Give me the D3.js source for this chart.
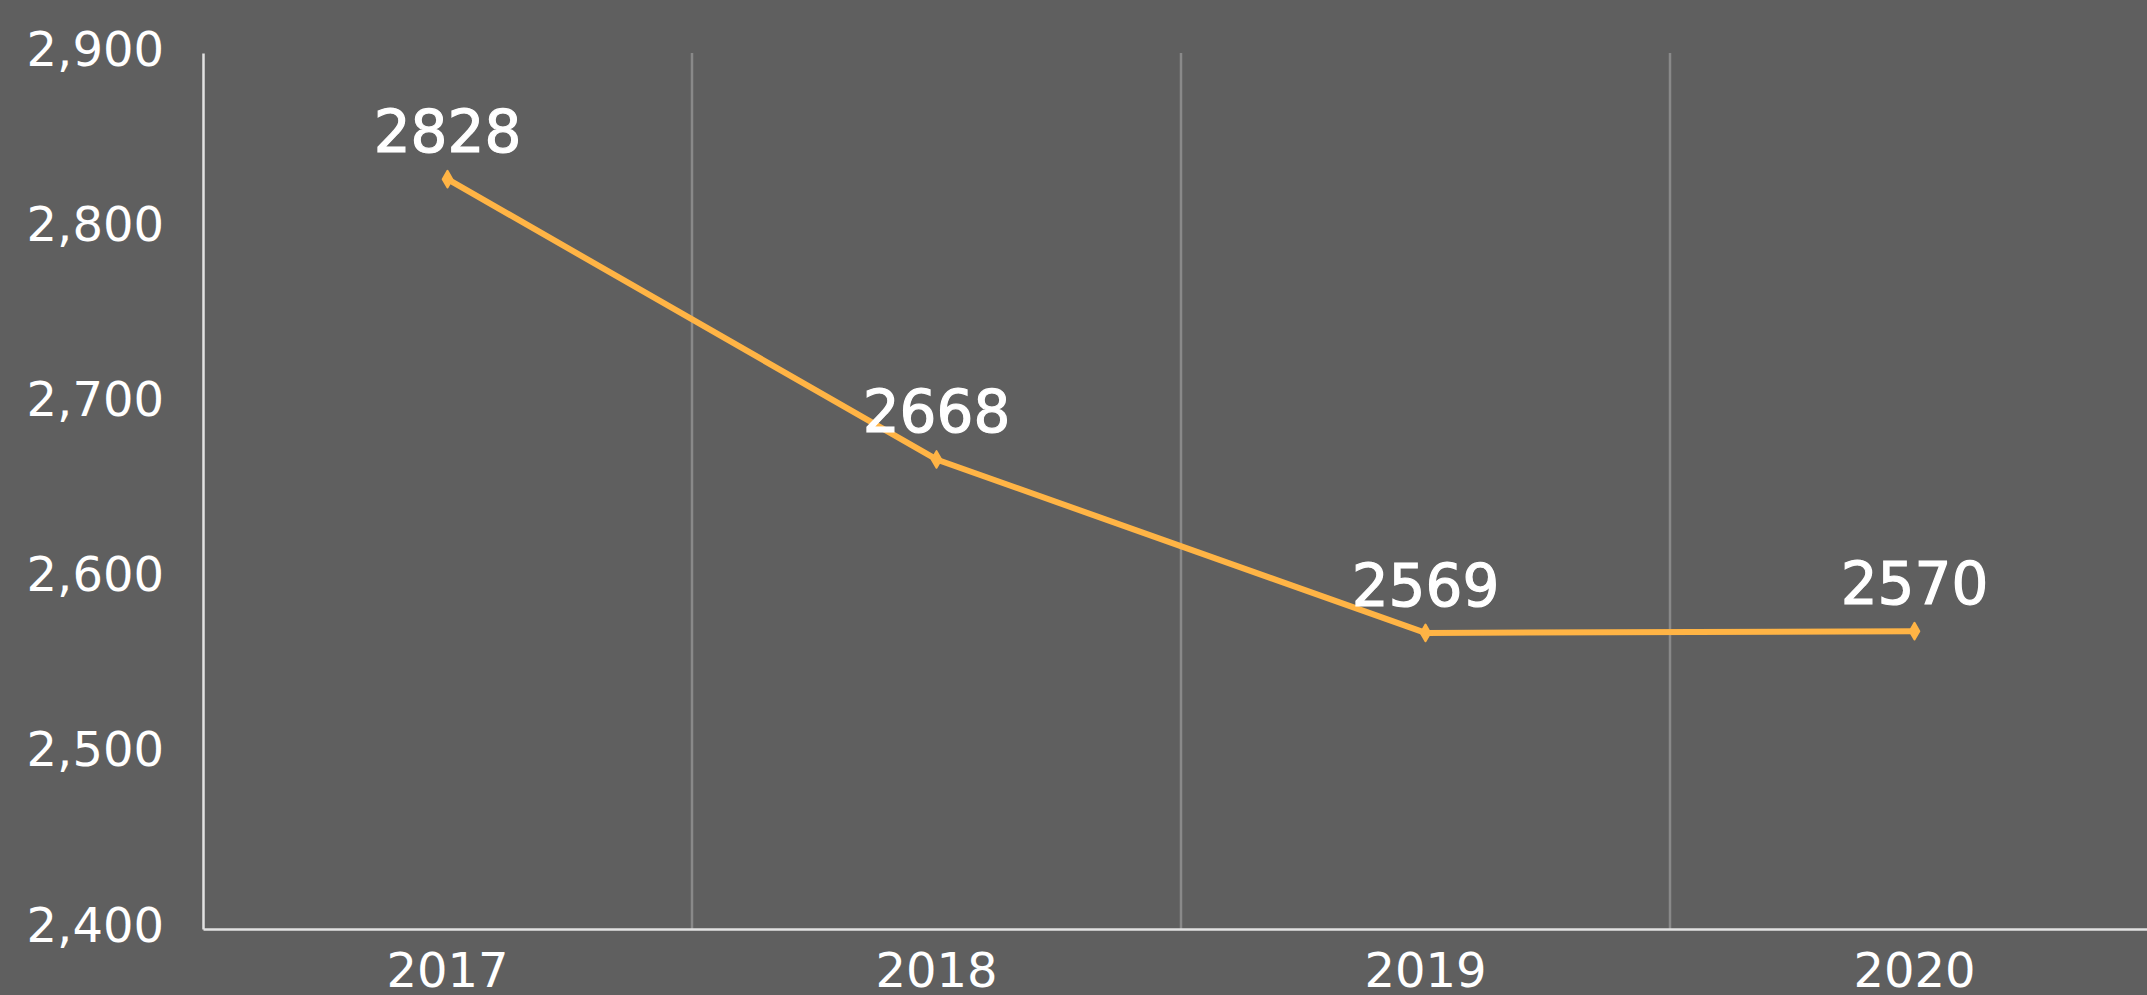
<!DOCTYPE html>
<html>
<head>
<meta charset="utf-8">
<script src="https://cdn.jsdelivr.net/npm/d3@7"></script>
<style>
  html, body { margin: 0; padding: 0; background: #5f5f5f; overflow: hidden; }
  text { font-family: "DejaVu Sans", sans-serif; fill: #ffffff; }
</style>
</head>
<body>
<svg class="chart"></svg>
<script>
var years = ["2017", "2018", "2019", "2020"];
var values = [2828, 2668, 2569, 2570];
var yTicks = [2400, 2500, 2600, 2700, 2800, 2900];

var width = 2147, height = 995;
var plotLeft = 203, plotTop = 53, plotBottom = 929;

var chart = d3.select(".chart")
  .attr("width", width)
  .attr("height", height);

var x = d3.scaleBand()
  .domain(years)
  .range([plotLeft, plotLeft + 489 * years.length]);

var y = d3.scaleLinear()
  .domain([2400, 2900])
  .range([plotBottom, plotTop]);

/* Grid */
chart.append("g")
  .selectAll("line")
  .data(years.slice(1))
  .enter().append("line")
  .attr("x1", function (d) { return x(d); })
  .attr("x2", function (d) { return x(d); })
  .attr("y1", plotTop)
  .attr("y2", plotBottom)
  .attr("stroke", "#898989")
  .attr("stroke-width", 2.5);

/* Axes */
var yAxis = d3.axisLeft(y)
  .tickValues(yTicks)
  .tickSize(0)
  .tickPadding(39)
  .tickFormat(d3.format(","));
var yg = chart.append("g")
  .attr("transform", "translate(" + plotLeft + ",0)")
  .call(yAxis);
yg.select(".domain").attr("stroke", "#e2e2e2").attr("stroke-width", 2.5);
yg.selectAll("text").attr("font-size", 48).attr("dy", "0.25em")
  .attr("font-family", "DejaVu Sans").attr("fill", "#ffffff");

var xAxis = d3.axisBottom(x).tickSize(0).tickPadding(24);
var xg = chart.append("g")
  .attr("transform", "translate(0," + plotBottom + ")")
  .call(xAxis);
xg.select(".domain").attr("stroke", "#e2e2e2").attr("stroke-width", 2.5);
xg.selectAll("text").attr("font-size", 48)
  .attr("font-family", "DejaVu Sans").attr("fill", "#ffffff");

/* Line */
var cx = function (d, i) { return x(years[i]) + x.bandwidth() / 2; };
var line = d3.line()
  .x(cx)
  .y(function (d) { return y(d); });

chart.append("path")
  .datum(values)
  .attr("d", line)
  .attr("fill", "none")
  .attr("stroke", "#ffb445")
  .attr("stroke-width", 6)
  .attr("stroke-linejoin", "round");

chart.append("g")
  .selectAll("path")
  .data(values)
  .enter().append("path")
  .attr("d", d3.symbol().type(d3.symbolDiamond).size(80))
  .attr("transform", function (d, i) { return "translate(" + cx(d, i) + "," + y(d) + ")"; })
  .attr("fill", "#ffb445")
  .attr("stroke", "#ffb445")
  .attr("stroke-width", 2)
  .attr("stroke-linejoin", "round");

/* Labels */
chart.append("g")
  .selectAll("text")
  .data(values)
  .enter().append("text")
  .attr("x", cx)
  .attr("y", function (d) { return y(d) - 27; })
  .attr("text-anchor", "middle")
  .attr("font-size", 58)
  .attr("stroke", "#ffffff")
  .attr("stroke-width", 1.2)
  .text(function (d) { return d; });
</script>
</body>
</html>
